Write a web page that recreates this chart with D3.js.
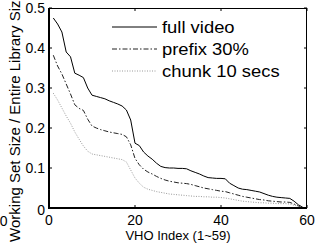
<!DOCTYPE html>
<meta charset="utf-8">
<style>
body { margin: 0; background: #fff; }
text { font-family: Arial, "Liberation Sans", sans-serif; }
</style>
<body>
<script src="https://d3js.org/d3.v7.min.js"></script>
<script>

// values per VHO index (1..59)
var fullVideo = [.475, .46, .44, .39, .378, .337, .332, .326, .30, .282,
  .279, .276, .273, .268, .264, .26, .255, .245, .22, .162,
  .156, .14, .13, .122, .112, .104, .101, .1, .1, .099,
  .099, .098, .093, .089, .085, .08, .076, .075, .074, .074,
  .073, .062, .056, .05, .047, .046, .044, .042, .04, .036,
  .032, .029, .027, .026, .025, .024, .017, .008, .002];
var prefix30 = [.382, .355, .335, .31, .285, .258, .249, .244, .222, .205,
  .2, .196, .193, .19, .188, .186, .184, .178, .158, .124,
  .108, .097, .09, .085, .079, .074, .07, .067, .065, .063,
  .062, .061, .059, .056, .053, .05, .048, .046, .044, .042,
  .041, .038, .035, .032, .029, .027, .025, .023, .021, .02,
  .018, .017, .016, .015, .015, .014, .01, .005, .002];
var chunk10 = [.287, .27, .25, .23, .212, .19, .172, .155, .142, .135,
  .133, .131, .129, .127, .125, .123, .121, .115, .095, .075,
  .062, .052, .047, .044, .041, .039, .037, .035, .034, .033,
  .032, .031, .03, .029, .029, .028, .028, .027, .027, .026,
  .025, .023, .021, .019, .017, .016, .015, .014, .013, .013,
  .012, .012, .011, .011, .011, .01, .007, .004, .002];
var seriesNames = ["full video", "prefix 30%", "chunk 10 secs"];
var xTicks = [0, 20, 40, 60];
var yTicks = [0, 0.1, 0.2, 0.3, 0.4, 0.5];

var W = 317, H = 244;
var pLeft = 49, pRight = 307, pTop = 8, pBottom = 208;

var svg = d3.select("body").append("svg")
    .attr("width", W)
    .attr("height", H);

var x = d3.scaleLinear().domain([0, 60]).range([pLeft, pRight]);
var y = d3.scaleLinear().domain([0, 0.5]).range([pBottom, pTop]);

var styles = [
  {stroke: "#000", dash: null},
  {stroke: "#222", dash: "5,2,1.5,2"},
  {stroke: "#999", dash: "1,1.5"}
];
var allSeries = [fullVideo, prefix30, chunk10];

var line = d3.line()
    .x(function(d, i) { return x(i + 1); })
    .y(function(d) { return y(d); });

allSeries.forEach(function(s, k) {
  svg.append("path")
      .datum(s)
      .attr("d", line)
      .attr("fill", "none")
      .attr("stroke", styles[k].stroke)
      .attr("stroke-width", 1)
      .attr("stroke-dasharray", styles[k].dash);
});

// box: thick left/bottom, thin top/right
svg.append("line").attr("x1", pLeft).attr("x2", pRight).attr("y1", pTop + 0.5).attr("y2", pTop + 0.5)
    .attr("stroke", "#000").attr("stroke-width", 1);
svg.append("line").attr("x1", pRight - 0.5).attr("x2", pRight - 0.5).attr("y1", pTop).attr("y2", pBottom)
    .attr("stroke", "#000").attr("stroke-width", 1);

// inside ticks on all four sides
var tl = 3;
xTicks.forEach(function(t) {
  svg.append("line").attr("x1", x(t)).attr("x2", x(t)).attr("y1", pBottom).attr("y2", pBottom - tl)
      .attr("stroke", "#000");
  svg.append("line").attr("x1", x(t)).attr("x2", x(t)).attr("y1", pTop).attr("y2", pTop + tl)
      .attr("stroke", "#000");
  svg.append("text").attr("x", x(t)).attr("y", 225)
      .attr("text-anchor", "middle").attr("font-size", 14).text(t);
});
yTicks.forEach(function(t) {
  svg.append("line").attr("x1", pLeft).attr("x2", pLeft + tl).attr("y1", y(t)).attr("y2", y(t))
      .attr("stroke", "#000");
  svg.append("line").attr("x1", pRight).attr("x2", pRight - tl).attr("y1", y(t)).attr("y2", y(t))
      .attr("stroke", "#000");
  svg.append("text").attr("x", 45).attr("y", y(t) + 5 + (t === 0 ? 2 : 0))
      .attr("text-anchor", "end").attr("font-size", 14).text(t);
});

svg.append("line").attr("x1", pLeft).attr("x2", pLeft).attr("y1", pTop).attr("y2", pBottom + 1)
    .attr("stroke", "#000").attr("stroke-width", 2);
svg.append("line").attr("x1", pLeft - 1).attr("x2", pRight).attr("y1", pBottom).attr("y2", pBottom)
    .attr("stroke", "#000").attr("stroke-width", 2);

// axis labels
svg.append("text").attr("x", 178).attr("y", 240)
    .attr("text-anchor", "middle").attr("font-size", 13).text("VHO Index (1~59)");
svg.append("text")
    .attr("transform", "translate(20,117) rotate(-90)")
    .attr("text-anchor", "middle").attr("font-size", 15)
    .text("Working Set Size / Entire Library Size");
// clipped label from the neighbouring panel
svg.append("text").attr("x", -8).attr("y", 226).attr("font-size", 14).text("60");

// legend
var ly = [27, 49, 71];
seriesNames.forEach(function(n, k) {
  svg.append("line").attr("x1", 112).attr("x2", 157).attr("y1", ly[k]).attr("y2", ly[k])
      .attr("stroke", styles[k].stroke).attr("stroke-width", 1)
      .attr("stroke-dasharray", styles[k].dash);
  svg.append("text")
      .attr("transform", "translate(162," + (ly[k] + 6) + ") scale(1.15,1)")
      .attr("font-size", 16).text(n);
});

</script>
</body>
